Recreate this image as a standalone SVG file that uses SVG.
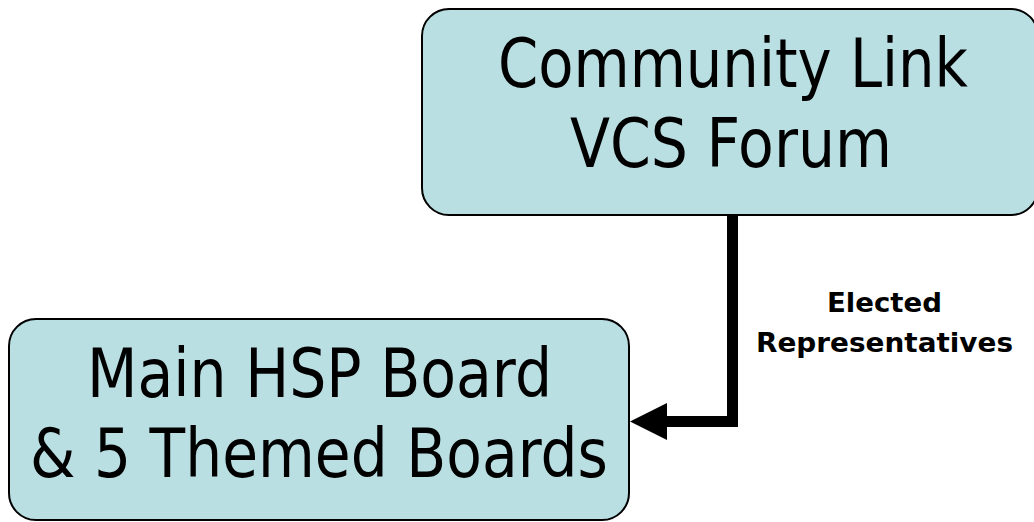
<svg xmlns="http://www.w3.org/2000/svg" width="1034" height="522" viewBox="0 0 1034 522">
  <style>
    .box { fill: #b9dfe2; stroke: #000; stroke-width: 2; }
    .big { font-family: "DejaVu Sans", Verdana, sans-serif; font-size: 67px; fill: #000; text-anchor: middle; }
    .lbl { font-family: "DejaVu Sans", Verdana, sans-serif; font-size: 27px; font-weight: bold; fill: #000; text-anchor: middle; }
    .conn { fill: none; stroke: #000; stroke-width: 11; stroke-linejoin: miter; }
  </style>
  <defs>
    <marker id="arrow" markerUnits="userSpaceOnUse" viewBox="0 0 37 37" markerWidth="37" markerHeight="37" refX="7" refY="18.5" orient="auto">
      <polygon points="0,0 37,18.5 0,37" fill="#000"/>
    </marker>
  </defs>
  <rect width="1034" height="522" fill="#fff"/>
  <g id="node-community">
    <rect class="box" x="422" y="9" width="616" height="206" rx="27" ry="27"/>
    <text class="big" x="733" y="87" textLength="470" lengthAdjust="spacingAndGlyphs">Community Link</text>
    <text class="big" x="731" y="167" textLength="322" lengthAdjust="spacingAndGlyphs">VCS Forum</text>
  </g>
  <g id="node-hsp">
    <rect class="box" x="9" y="319" width="620" height="201" rx="27" ry="27"/>
    <text class="big" x="319.5" y="397" textLength="465" lengthAdjust="spacingAndGlyphs">Main HSP Board</text>
    <text class="big" x="319" y="477" textLength="578" lengthAdjust="spacingAndGlyphs">&amp; 5 Themed Boards</text>
  </g>
  <g id="connectors">
    <path class="conn" d="M732.5,215 V421.5 H660" marker-end="url(#arrow)"/>
    <text class="lbl" x="884.5" y="312" textLength="115" lengthAdjust="spacingAndGlyphs">Elected</text>
    <text class="lbl" x="884.5" y="352" textLength="257" lengthAdjust="spacingAndGlyphs">Representatives</text>
  </g>
</svg>
